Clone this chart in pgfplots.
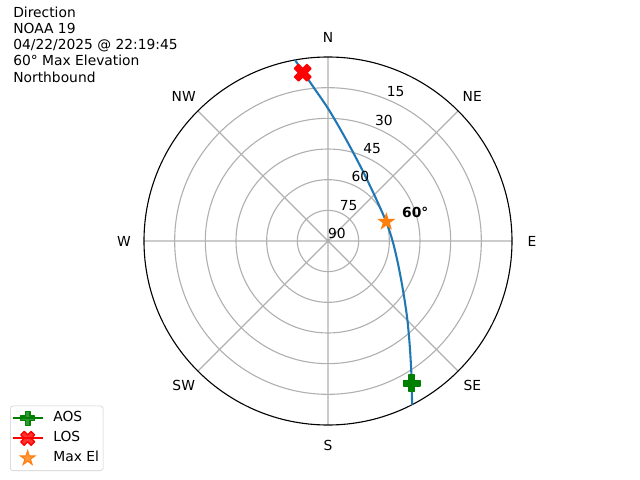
\documentclass[border=0pt]{standalone}
\usepackage{fontspec}
\setmainfont{DejaVu Sans}
\usepackage{pgfplots}
\pgfplotsset{compat=1.18}
\usepackage{pgfplotstable}
\usepgfplotslibrary{polar}

\pgfdeclareplotmark{Pplus}{%
  \pgfmathsetlengthmacro{\mw}{\pgfplotmarksize/3}%
  \pgfmathsetlengthmacro{\ms}{\pgfplotmarksize}%
  \pgfpathmoveto{\pgfqpoint{-\mw}{-\ms}}%
  \pgfpathlineto{\pgfqpoint{-\mw}{-\mw}}%
  \pgfpathlineto{\pgfqpoint{-\ms}{-\mw}}%
  \pgfpathlineto{\pgfqpoint{-\ms}{\mw}}%
  \pgfpathlineto{\pgfqpoint{-\mw}{\mw}}%
  \pgfpathlineto{\pgfqpoint{-\mw}{\ms}}%
  \pgfpathlineto{\pgfqpoint{\mw}{\ms}}%
  \pgfpathlineto{\pgfqpoint{\mw}{\mw}}%
  \pgfpathlineto{\pgfqpoint{\ms}{\mw}}%
  \pgfpathlineto{\pgfqpoint{\ms}{-\mw}}%
  \pgfpathlineto{\pgfqpoint{\mw}{-\mw}}%
  \pgfpathlineto{\pgfqpoint{\mw}{-\ms}}%
  \pgfpathclose
  \pgfsetroundjoin
  \pgfusepathqfillstroke
}
\pgfdeclareplotmark{Xfilled}{%
  \pgfmathsetlengthmacro{\mxu}{\pgfplotmarksize/2}%
  \pgfmathsetlengthmacro{\ms}{\pgfplotmarksize}%
  \pgfpathmoveto{\pgfqpoint{-\mxu}{-\ms}}%
  \pgfpathlineto{\pgfqpoint{0pt}{-\mxu}}%
  \pgfpathlineto{\pgfqpoint{\mxu}{-\ms}}%
  \pgfpathlineto{\pgfqpoint{\ms}{-\mxu}}%
  \pgfpathlineto{\pgfqpoint{\mxu}{0pt}}%
  \pgfpathlineto{\pgfqpoint{\ms}{\mxu}}%
  \pgfpathlineto{\pgfqpoint{\mxu}{\ms}}%
  \pgfpathlineto{\pgfqpoint{0pt}{\mxu}}%
  \pgfpathlineto{\pgfqpoint{-\mxu}{\ms}}%
  \pgfpathlineto{\pgfqpoint{-\ms}{\mxu}}%
  \pgfpathlineto{\pgfqpoint{-\mxu}{0pt}}%
  \pgfpathlineto{\pgfqpoint{-\ms}{-\mxu}}%
  \pgfpathclose
  \pgfsetroundjoin
  \pgfusepathqfillstroke
}
\pgfdeclareplotmark{starfilled}{%
  \pgfmathsetlengthmacro{\ms}{\pgfplotmarksize}%
  \pgfmathsetlengthmacro{\mi}{0.381966*\pgfplotmarksize}%
  \pgfpathmoveto{\pgfqpointpolar{90}{\ms}}%
  \pgfpathlineto{\pgfqpointpolar{126}{\mi}}%
  \pgfpathlineto{\pgfqpointpolar{162}{\ms}}%
  \pgfpathlineto{\pgfqpointpolar{198}{\mi}}%
  \pgfpathlineto{\pgfqpointpolar{234}{\ms}}%
  \pgfpathlineto{\pgfqpointpolar{270}{\mi}}%
  \pgfpathlineto{\pgfqpointpolar{306}{\ms}}%
  \pgfpathlineto{\pgfqpointpolar{342}{\mi}}%
  \pgfpathlineto{\pgfqpointpolar{18}{\ms}}%
  \pgfpathlineto{\pgfqpointpolar{54}{\mi}}%
  \pgfpathclose
  \pgfsetmiterjoin
  \pgfusepathqfillstroke
}

\definecolor{tabblue}{HTML}{1F77B4}
\definecolor{taborange}{HTML}{FF7F0E}
\definecolor{mplgreen}{HTML}{008000}
\definecolor{gridgray}{HTML}{B0B0B0}

% azimuth (deg, clockwise from North), elevation (deg)
\pgfplotstableread{
az el
349.67 0
354.14 13.30
0.44 25.92
10.32 39.78
25.78 51.43
46.13 58.24
71.8 60
90 58.40
105.35 54.90
118.05 49.43
127.6 42.71
134.85 35.21
141.85 25.31
147.55 14.07
152.79 0
}\track
\pgfplotstableread{
az el
149.5 9.2
}\aos
\pgfplotstableread{
az el
351.45 6.75
}\los
\pgfplotstableread{
az el
71.8 60
}\maxel

\tikzset{lbl/.style={font=\fontsize{10}{12}\selectfont},
         rlbl/.style={font=\fontsize{10}{12}\selectfont, xshift=0.09in, yshift=0.075in}}

\begin{document}
\begin{tikzpicture}
\path[use as bounding box] (0,0) rectangle (6.4in,4.8in);
\begin{polaraxis}[
  width=3.68in, height=3.68in, scale only axis,
  at={(3.28in,2.39in)}, anchor=center,
  xmin=0, xmax=360, ymin=0, ymax=90,
  xtick={0,45,...,315}, xticklabels={},
  ytick={15,30,45,60,75}, yticklabels={},
  xmajorgrids, ymajorgrids,
  grid style={color=gridgray, line width=0.8pt},
  axis line style={line width=0.8pt, black},
  y axis line style={draw=none},
  major tick length=0pt,
  clip=false,
  legend style={at={(-0.364,-0.125)}, anchor=south west,
    draw=black!20, rounded corners=2pt, fill=white, fill opacity=0.8, text opacity=1,
    font=\fontsize{10}{12}\selectfont, row sep=0.4pt, inner xsep=1pt,
    nodes={inner sep=2pt, text height=7.5pt, text depth=2.5pt}},
  legend cell align=left,
  legend image code/.code={\draw[mark repeat=2,mark phase=2,#1] plot coordinates {(0pt,0pt)(10.8pt,0pt)(21.6pt,0pt)};},
]
\addplot[tabblue, line width=1.5pt, smooth, forget plot]
  table[x expr=90-\thisrow{az}, y expr=90-\thisrow{el}] {\track};
\addplot[mplgreen, line width=1.5pt, mark=Pplus, mark size=6pt,
  mark options={line width=1pt, fill=mplgreen, draw=mplgreen},
  legend image post style={mark size=5pt}]
  table[x expr=90-\thisrow{az}, y expr=90-\thisrow{el}] {\aos};
\addlegendentry{\hspace{5pt}AOS}
\addplot[red, line width=1.5pt, mark=Xfilled, mark size=6pt,
  mark options={line width=1pt, fill=red, draw=red},
  legend image post style={mark size=5pt}]
  table[x expr=90-\thisrow{az}, y expr=90-\thisrow{el}] {\los};
\addlegendentry{\hspace{5pt}LOS}
\addplot[taborange, only marks, mark=starfilled, mark size=5.7pt,
  mark options={line width=0.8pt, fill=taborange, draw=taborange},
  legend image post style={mark size=5.4pt}]
  table[x expr=90-\thisrow{az}, y expr=90-\thisrow{el}] {\maxel};
\addlegendentry{\hspace{5pt}Max El\hspace{2pt}}
% compass labels
\node[lbl] at (axis cs:90,99.8) {N};
\node[lbl] at (axis cs:45,99.8) {NE};
\node[lbl] at (axis cs:0,99.8) {E};
\node[lbl] at (axis cs:-45,99.8) {SE};
\node[lbl] at (axis cs:-90,99.8) {S};
\node[lbl] at (axis cs:-135,99.8) {SW};
\node[lbl] at (axis cs:180,99.8) {W};
\node[lbl] at (axis cs:135,99.8) {NW};
% radial labels (elevation)
\node[rlbl] at (axis cs:67.5,0) {90};
\node[rlbl] at (axis cs:67.5,15) {75};
\node[rlbl] at (axis cs:67.5,30) {60};
\node[rlbl] at (axis cs:67.5,45) {45};
\node[rlbl] at (axis cs:67.5,60) {30};
\node[rlbl] at (axis cs:67.5,75) {15};
\node[font=\fontsize{10}{12}\selectfont\bfseries, anchor=west, xshift=0.11in, yshift=0.09in] at (axis cs:18.2,30) {60°};
\end{polaraxis}
\node[anchor=north west, align=left, inner sep=0pt, font=\fontsize{10}{11.7}\selectfont] at (0.13in,4.735in)
  {Direction\\NOAA 19\\04/22/2025 @ 22:19:45\\60° Max Elevation\\Northbound};
\end{tikzpicture}
\end{document}
